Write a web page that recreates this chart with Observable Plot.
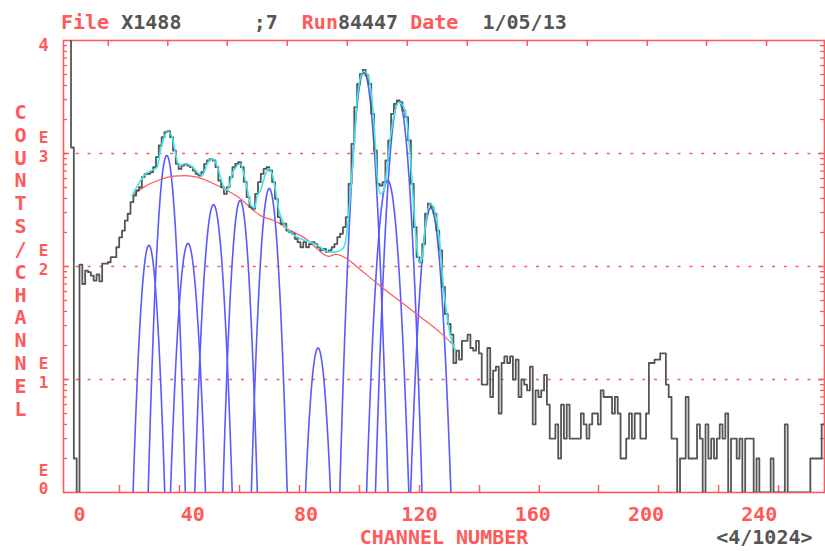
<!DOCTYPE html>
<html>
<head>
<meta charset="utf-8">
<script src="https://cdn.jsdelivr.net/npm/d3@7"></script>
<script src="https://cdn.jsdelivr.net/npm/@observablehq/plot@0.6"></script>
<style>
  html, body { margin: 0; padding: 0; background: #fff; }
  #wrap { position: relative; width: 825px; height: 551px; }
  #hdr { position: absolute; left: 61px; top: 12px; font: bold 20px "DejaVu Sans Mono", monospace;
         line-height: 20px; white-space: pre; color: #555; }
  #hdr .k { color: #ff5a5a; }
  #chart { position: absolute; left: 0; top: 0; }
</style>
</head>
<body>
<div id="wrap"><div id="chart"></div><div id="hdr"></div></div>
<script>
// ---- run header
const fileName = "X1488";
const cycleTag = ";7";
const runNumber = "84447";
const runDate = "1/05/13";
const compression = "<4/1024>";

// ---- spectrum: counts per channel, starting at channel firstChannel
const firstChannel = -5;
const counts = [
  20000, 20000, 1130, 2, 0,
  104, 70, 92, 89, 83, 75, 85, 74, 106, 106, 109, 121, 121,
  148, 181, 208, 255, 293, 371, 425, 471, 504, 617, 661, 661, 683, 757, 927, 1177, 1394, 1545, 1577, 1394, 1063, 811, 731, 783, 811,
  783, 757, 707, 661, 638, 683, 811, 867, 898, 867, 757, 577, 504, 440, 504, 617, 757, 811, 838, 757, 560, 411, 335, 324, 440,
  557, 661, 731, 757, 707, 557, 397, 273, 239, 239, 208, 201, 195, 176, 164, 148, 164, 148, 158, 164, 158, 148, 139, 143, 134, 139,
  148, 158, 182, 195, 223, 273, 539, 1218, 2570, 4140, 5070, 5500, 4900, 4140, 2245, 1063, 539, 521, 557, 867, 1303, 2245, 2754, 2945, 2845,
  2402, 2098, 1303, 539, 223, 121, 109, 158, 293, 359, 335, 293, 208, 139, 66, 38, 31, 25, 14, 18, 15, 22, 22, 25, 19,
  18, 22, 17, 9, 9, 19, 7, 12, 13, 5, 14, 16, 14, 16, 10, 15, 7, 10, 9, 8, 13, 4, 8, 7, 8,
  11, 6, 3, 3, 4, 2, 6, 3, 6, 3, 3, 3, 3, 5, 4, 3, 4, 5, 5, 4, 8, 7, 7, 7, 5,
  7, 5, 2, 2, 3, 5, 3, 5, 5, 3, 3, 5, 14, 14, 15, 15, 17, 17, 9, 7, 3, 3, 0, 2, 2, 7,
  2, 2, 2, 4, 3, 0, 4, 2, 3, 2, 3, 4, 3, 5, 0, 3, 3, 2, 3, 0, 3, 3, 3, 0, 2,
  0, 0, 0, 0, 2, 0, 0, 0, 0, 4, 0, 1, 1, 0, 1, 1, 0, 1, 2, 2, 2, 2, 4
];

// ---- fitted gaussian peaks
const peakCentroid = [24.5, 30.8, 38.3, 47.3, 56.7, 67.0, 84.2, 100.4, 108.8, 112.7, 124.0];
const peakHeight   = [154, 960, 160, 352, 384, 490, 19, 5250, 577, 2900, 330];
const peakSigma    = [1.76, 1.77, 1.94, 1.93, 1.76, 1.80, 1.82, 2.06, 2.09, 2.06, 2.09];

// ---- fitted background
const bgChannel = [18.6, 22.7, 28.6, 33.3, 37.4, 41.5, 46.2, 52.1, 56.8, 61.5, 63.9, 68.6, 74.5, 80.4, 83.3, 86.2, 88.0, 90.4, 94.5, 98.0, 103.9, 109.8, 115.7, 121.5, 127.4, 132.1];
const bgCounts  = [425, 504, 589, 631, 638, 617, 557, 471, 398, 313, 282, 255, 208, 172, 148, 128, 123, 128, 117, 99, 75, 57, 44, 34, 26, 20];

// ---- total fit (background + peaks)
const fitChannel = [18.6, 23.3, 27.4, 28.6, 30.4, 31.2, 32.7, 33.9, 35.1, 37.4, 39.8, 41.6, 43.3, 45.1, 46.8, 48.0, 49.8, 51.5, 52.7, 53.9, 55.7, 56.8, 58.0, 59.2, 60.4, 61.9, 62.7, 63.9, 65.7, 66.8, 68.0, 69.2, 70.4, 72.1, 74.5, 78.0, 81.6, 85.1, 87.4, 89.8, 92.1, 93.3, 94.5, 95.7, 96.8, 98.0, 99.2, 100.4, 101.6, 102.7, 103.9, 105.1, 106.3, 107.4, 108.6, 109.8, 111.0, 112.7, 114.5, 115.7, 116.9, 118.0, 119.2, 120.4, 121.3, 122.2, 123.9, 125.1, 126.3, 127.4, 128.6, 129.8, 131.0, 132.7];
const fitCounts  = [425, 661, 757, 1070, 1493, 1566, 1394, 994, 783, 811, 757, 683, 638, 811, 898, 838, 617, 471, 504, 661, 783, 811, 660, 487, 353, 330, 420, 471, 661, 732, 661, 471, 313, 239, 201, 176, 164, 148, 134, 134, 139, 148, 208, 471, 1063, 2945, 4730, 5350, 5070, 3860, 1960, 617, 440, 471, 757, 1394, 2170, 2845, 2570, 1832, 867, 335, 139, 106, 139, 239, 359, 324, 239, 139, 61, 36, 24, 18];

// ---- axes
const channelRange = [-5.65, 263.0];
const xTickLabels = [0, 40, 80, 120, 160, 200, 240];
const bottomTickChannels = [14.12, 35.3, 56.49, 77.67, 98.85, 120.04, 141.22, 162.29, 183.23, 204.41, 225.6, 246.78];
const topTickChannels = [10.13, 31.17, 52.14, 73.33, 94.51, 115.69, 136.87, 158.05, 179.24, 200.42, 221.36, 242.54];
const decades = [1, 2, 3];
const yTitle = "COUNTS/CHANNEL";
const xTitle = "CHANNEL NUMBER";

const RED = "#ff5a5a", GREY = "#555555", BLUE = "#5a5aff", CYAN = "#3ee6ee";
const FONT = "DejaVu Sans Mono";

// header line (monospace, coloured keywords)
const k = s => `<span class="k">${s}</span>`;
document.getElementById("hdr").innerHTML =
  `${k("File")} ${fileName}      ${cycleTag}  ${k("Run")}${runNumber} ${k("Date")}  ${runDate}`;

// spectrum as a step outline
const spectrum = counts.map((v, i) => ({c: firstChannel + i, v}));
spectrum.push({c: firstChannel + counts.length, v: counts[counts.length - 1]});

// sampled gaussian components
const peakCurves = [];
peakCentroid.forEach((c0, p) => {
  const s = peakSigma[p], a = peakHeight[p];
  for (let c = c0 - 5 * s; c <= c0 + 5 * s + 1e-9; c += 0.05) {
    peakCurves.push({peak: p, c, v: a * Math.exp(-((c - c0) ** 2) / (2 * s * s))});
  }
});
const background = bgChannel.map((c, i) => ({c, v: bgCounts[i]}));
const totalFit = fitChannel.map((c, i) => ({c, v: fitCounts[i]}));

const minorTicks = [];
for (let e = 0; e < 4; e++) for (let m = 2; m <= 9; m++) minorTicks.push(m * 10 ** e);
const majorTicks = decades.map(d => 10 ** d);

const innerW = 825 - 63 - 1, innerH = 551 - 40 - 59;
const labelStyle = {fill: RED, fontSize: 16, fontWeight: "bold", textAnchor: "middle"};

const chart = Plot.plot({
  width: 825, height: 551,
  marginLeft: 63, marginRight: 1, marginTop: 40, marginBottom: 59,
  x: {domain: channelRange, axis: null},
  y: {type: "log", domain: [1, 1e4], axis: null},
  style: {background: "transparent", fontFamily: FONT},
  marks: [
    Plot.ruleY(majorTicks, {y: d => d, stroke: RED, strokeWidth: 1.5, strokeDasharray: "3 8.8", strokeDashoffset: -1}),
    Plot.frame({stroke: RED, strokeWidth: 1.6}),
    Plot.tickX(bottomTickChannels, {x: d => d, stroke: RED, strokeWidth: 1.5, insetTop: innerH - 7}),
    Plot.tickX(topTickChannels, {x: d => d, stroke: RED, strokeWidth: 1.5, insetBottom: innerH - 6}),
    Plot.tickY(minorTicks, {y: d => d, stroke: RED, strokeWidth: 1.3, insetRight: innerW - 4}),
    Plot.tickY(minorTicks, {y: d => d, stroke: RED, strokeWidth: 1.3, insetLeft: innerW - 4}),
    Plot.tickY(majorTicks, {y: d => d, stroke: RED, strokeWidth: 1.5, insetRight: innerW - 6}),
    Plot.tickY(majorTicks, {y: d => d, stroke: RED, strokeWidth: 1.5, insetLeft: innerW - 6}),

    Plot.line(peakCurves, {x: "c", y: "v", z: "peak", stroke: BLUE, strokeWidth: 1.6, clip: true}),
    Plot.line(background, {x: "c", y: "v", stroke: RED, strokeWidth: 1.2, curve: "monotone-x", clip: true}),
    Plot.line(spectrum, {x: "c", y: d => Math.max(d.v, 1), stroke: GREY, strokeWidth: 1.8, curve: "step-after", clip: true}),
    Plot.line(totalFit, {x: "c", y: "v", stroke: CYAN, strokeWidth: 1.6, curve: "monotone-x", clip: true}),

    // y axis labels: exponent letter above the power, on each decade
    Plot.text([4], {y: d => 10 ** d, text: d => String(d), frameAnchor: "left", dx: -20, dy: 5, ...labelStyle, fontSize: 17}),
    Plot.text(decades, {y: d => 10 ** d, text: d => `E\n${d}`, frameAnchor: "left", dx: -20, dy: -7,
      lineHeight: 1.16, ...labelStyle}),
    Plot.text([0], {y: d => 10 ** d, text: d => `E\n${d}`, frameAnchor: "left", dx: -20, dy: -13,
      lineHeight: 1.1, ...labelStyle}),
    Plot.text([yTitle], {text: d => d.split("").join("\n"), frameAnchor: "left", dx: -43, dy: -6.5,
      lineHeight: 1.1425, fill: RED, fontSize: 20, fontWeight: "bold", textAnchor: "middle"}),

    // x axis labels
    Plot.text(xTickLabels, {x: d => d, text: d => String(d), frameAnchor: "bottom", dy: 28,
      fill: RED, fontSize: 20, fontWeight: "bold", textAnchor: "middle"}),
    Plot.text([xTitle], {text: d => d, frameAnchor: "bottom", dy: 51,
      fill: RED, fontSize: 20, fontWeight: "bold", textAnchor: "middle"}),
    Plot.text([compression], {text: d => d, frameAnchor: "bottom-right", dx: -12, dy: 51,
      fill: GREY, fontSize: 20, fontWeight: "bold", textAnchor: "end"})
  ]
});
document.getElementById("chart").appendChild(chart);
</script>
</body>
</html>
